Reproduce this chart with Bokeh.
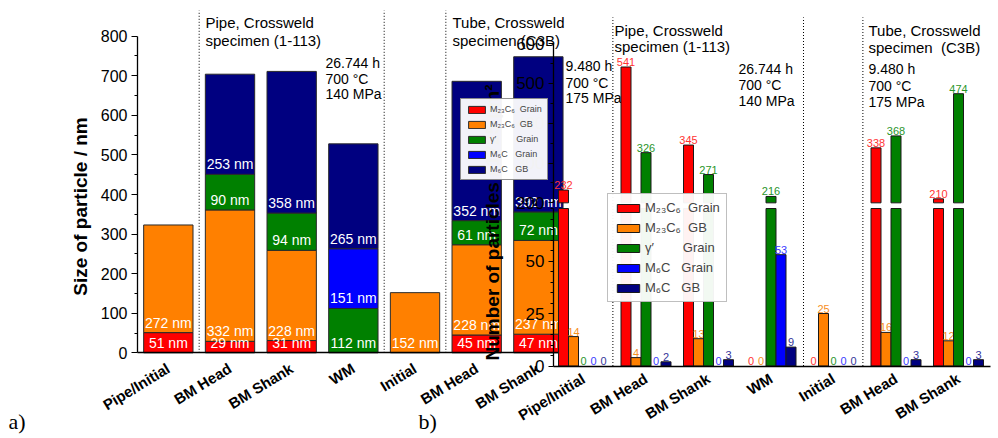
import numpy as np
from bokeh.plotting import figure
from bokeh.models import Range1d, LinearAxis, FixedTicker, Legend, LegendItem, Label
from bokeh.core.properties import value
from bokeh.embed import file_html
from bokeh.resources import INLINE

# ---------------- data ----------------
categories = ["Pipe/Initial", "BM Head", "BM Shank", "WM", "Initial", "BM Head", "BM Shank"]

# a) mean particle size of each phase (nm), stacked per specimen position
size_m23c6_grain = [51, 29, 31, 0, 0, 45, 47]
size_m23c6_gb = [272, 332, 228, 0, 152, 228, 237]
size_gamma_grain = [0, 90, 94, 112, 0, 61, 72]
size_m6c_grain = [0, 0, 0, 151, 0, 0, 0]
size_m6c_gb = [0, 253, 358, 265, 0, 352, 392]

# b) number of particles per 1725 µm²
count_m23c6_grain = [232, 541, 345, 0, 0, 338, 210]
count_m23c6_gb = [14, 4, 13, 0, 25, 16, 12]
count_gamma_grain = [0, 326, 271, 216, 0, 368, 474]
count_m6c_grain = [0, 0, 0, 53, 0, 0, 0]
count_m6c_gb = [0, 2, 3, 9, 0, 3, 3]

NB = "\u00a0"
phase_labels = [
    "M₂₃C₆" + NB * 2 + "Grain",
    "M₂₃C₆" + NB * 2 + "GB",
    "γ′" + NB * 8 + "Grain",
    "M₆C" + NB * 3 + "Grain",
    "M₆C" + NB * 3 + "GB",
]
fill_colors = ["#ff0000", "#ff8000", "#008000", "#0000ff", "#000080"]
text_colors = ["#ff3333", "#f7901e", "#2a952a", "#3a3aff", "#33339a"]

size_ticks = list(range(0, 801, 100))
size_minor = list(range(50, 800, 100))
count_ticks_low = [0, 25, 50]
count_minor_low = [5, 10, 15, 20, 30, 35, 40, 45, 55, 60, 65, 70, 75]
count_ticks_high = [200, 300, 400, 500, 600]
count_minor_high = [250, 350, 450, 550]
BREAK_LOW, BREAK_HIGH = 75, 200

# ---------------- layout ----------------
W, H = 998, 438
FONT = "Liberation Sans"


def span(p0, v0, p1, v1, a, b):
    """Linear pixel->value map, evaluated at pixels a and b."""
    k = (v1 - v0) / (p1 - p0)
    return v0 + (a - p0) * k, v0 + (b - p0) * k


p = figure(width=W, height=H,
           x_range=Range1d(*span(137, -0.5, 568.7, 6.5, 0, W)),
           y_range=Range1d(*span(352.3, 0, 35.7, 800, H, 0)),
           x_axis_type=None, y_axis_type=None,
           output_backend="svg", toolbar_location=None, min_border=0)
p.outline_line_color = None
p.background_fill_color = "white"
p.border_fill_color = "white"
p.extra_x_ranges = {"bx": Range1d(*span(583, 0, 958, 6, 0, W))}
p.extra_y_ranges = {
    "blo": Range1d(*span(365.5, 0, 260.5, 50, H, 0)),
    "bhi": Range1d(*span(162.5, 300, 43, 600, H, 0)),
}

idx = np.arange(len(categories), dtype=float)

# ---------------- panel a: stacked sizes ----------------
size_stack = [size_m23c6_grain, size_m23c6_gb, size_gamma_grain, size_m6c_grain, size_m6c_gb]
a_renderers = []
lab_x, lab_y, lab_t = [], [], []
base = np.zeros(len(categories))
for vals, col in zip(size_stack, fill_colors):
    v = np.array(vals, dtype=float)
    top = base + v
    m = v > 0
    r = p.vbar(x=idx[m], bottom=base[m], top=top[m], width=0.8,
               fill_color=col, line_color="#2a2a2a", line_width=1, level="image")
    a_renderers.append(r)
    lab_x += list(idx[m])
    lab_y += list(base[m])
    lab_t += [f"{int(x)} nm" for x in v[m]]
    base = top

p.text(x=lab_x, y=lab_y, text=lab_t, text_color="white", text_align="center",
       text_baseline="middle", y_offset=-10, text_font=value(FONT),
       text_font_size="14px", level="image")

# separators between specimens
p.segment(x0=[0.5, 3.5, 4.5], y0=[0, 0, 0], x1=[0.5, 3.5, 4.5], y1=[865, 865, 865],
          line_color="black", line_width=1, line_dash="1 2", level="image")

ya = LinearAxis(ticker=FixedTicker(ticks=size_ticks, minor_ticks=size_minor),
                fixed_location=-0.5, bounds=(0, 800), level="underlay")
xa = LinearAxis(ticker=FixedTicker(ticks=list(idx)),
                major_label_overrides={i: c for i, c in enumerate(categories)},
                fixed_location=0, bounds=(-0.5, 6.5), level="underlay")

# ---------------- panel b: particle counts with broken axis ----------------
count_stack = [count_m23c6_grain, count_m23c6_gb, count_gamma_grain, count_m6c_grain, count_m6c_gb]
offsets = [-0.32, -0.16, 0.0, 0.16, 0.32]
b_renderers = []
for vals, col, tcol, off in zip(count_stack, fill_colors, text_colors, offsets):
    v = np.array(vals, dtype=float)
    x = idx + off
    m = v > 0
    r = p.vbar(x=x[m], bottom=0, top=np.minimum(v, BREAK_LOW)[m], width=0.16,
               fill_color=col, line_color="#1a1a1a", line_width=1,
               x_range_name="bx", y_range_name="blo")
    b_renderers.append(r)
    hi = v > BREAK_HIGH
    p.vbar(x=x[hi], bottom=BREAK_HIGH, top=v[hi], width=0.16,
           fill_color=col, line_color="#1a1a1a", line_width=1,
           x_range_name="bx", y_range_name="bhi")
    lo = ~hi
    p.text(x=x[lo], y=v[lo], text=[str(int(t)) for t in v[lo]], text_color=tcol,
           text_align="center", text_baseline="bottom", y_offset=-1,
           text_font=value(FONT), text_font_size="11px",
           x_range_name="bx", y_range_name="blo")
    p.text(x=x[hi], y=v[hi], text=[str(int(t)) for t in v[hi]], text_color=tcol,
           text_align="center", text_baseline="bottom", y_offset=-1,
           text_font=value(FONT), text_font_size="11px",
           x_range_name="bx", y_range_name="bhi")

p.segment(x0=[0.47, 3.52, 4.47], y0=[0, 0, 0], x1=[0.47, 3.52, 4.47], y1=[166, 166, 166],
          line_color="black", line_width=1, line_dash="1 2",
          x_range_name="bx", y_range_name="blo")

yb_lo = LinearAxis(ticker=FixedTicker(ticks=count_ticks_low, minor_ticks=count_minor_low),
                   x_range_name="bx", y_range_name="blo", fixed_location=-0.48,
                   bounds=(0, BREAK_LOW))
yb_hi = LinearAxis(ticker=FixedTicker(ticks=count_ticks_high, minor_ticks=count_minor_high),
                   x_range_name="bx", y_range_name="bhi", fixed_location=-0.48,
                   bounds=(BREAK_HIGH, 600))
xb = LinearAxis(ticker=FixedTicker(ticks=list(idx)),
                major_label_overrides={i: c for i, c in enumerate(categories)},
                x_range_name="bx", y_range_name="blo", fixed_location=0,
                bounds=(-0.48, 6.51))


def style_y(ax, size, out):
    ax.axis_line_color = "black"
    ax.axis_line_width = 1.3
    ax.major_tick_in = 0
    ax.major_tick_out = out
    ax.minor_tick_in = 0
    ax.minor_tick_out = 3
    ax.major_tick_line_width = 1.2
    ax.major_label_text_font = FONT
    ax.major_label_text_font_size = size
    ax.major_label_text_color = "black"
    ax.major_label_standoff = 4


def style_x(ax, standoff):
    ax.axis_line_color = "black"
    ax.axis_line_width = 1.3
    ax.major_tick_line_color = None
    ax.minor_tick_line_color = None
    ax.major_label_text_font = FONT
    ax.major_label_text_font_style = "bold"
    ax.major_label_text_font_size = "15px"
    ax.major_label_text_color = "black"
    ax.major_label_orientation = 0.55
    ax.major_label_standoff = standoff


style_y(ya, "16px", 6)
style_y(yb_lo, "17px", 5)
style_y(yb_hi, "17px", 5)
style_x(xa, 8)
style_x(xb, 5)
for ax in (ya, yb_lo, yb_hi):
    p.add_layout(ax, "left")
for ax in (xa, xb):
    p.add_layout(ax, "below")

# ---------------- legends ----------------
leg_a = Legend(items=[LegendItem(label=l, renderers=[r]) for l, r in zip(phase_labels, a_renderers)],
               location=(460, H - 180), label_text_font=FONT, label_text_font_size="9px",
               glyph_width=21, glyph_height=9, label_height=9, spacing=5, padding=5,
               margin=0, label_standoff=3, border_line_color="#222222", border_line_width=1,
               level="underlay")
leg_b = Legend(items=[LegendItem(label=l, renderers=[r]) for l, r in zip(phase_labels, b_renderers)],
               location=(607, H - 302), label_text_font=FONT, label_text_font_size="13px",
               glyph_width=28, glyph_height=10, label_height=12, spacing=5, padding=6,
               margin=0, label_standoff=3, border_line_color="#7f7f7f", border_line_width=1.5)
p.add_layout(leg_a, "center")
p.add_layout(leg_b, "center")


# ---------------- texts ----------------
def note(txt, x, y, size="14px", level="annotation", **kw):
    opts = dict(text_font=FONT, text_font_size=size, text_baseline="middle", text_color="black")
    opts.update(kw)
    p.add_layout(Label(x=x, y=H - y, x_units="screen", y_units="screen", text=txt,
                       level=level, **opts))


note("Size of particle / nm", 80, 206, "19px", level="underlay", angle=np.pi / 2,
     text_align="center", text_font_style="bold")
note("Pipe, Crossweld", 205, 22, "15px", level="underlay")
note("specimen (1-113)", 205, 40, "15px", level="underlay")
note("26.744 h", 325, 62, level="underlay")
note("700 °C", 325, 78, level="underlay")
note("140 MPa", 325, 93, level="underlay")
note("Tube, Crossweld", 452, 22, "15px", level="underlay")
note("specimen (C3B)", 452, 40, "15px", level="underlay")
note("9.480 h", 565, 65, level="underlay")
note("700 °C", 565, 82, level="underlay")
note("175 MPa", 565, 97, level="underlay")

note("Number of particles / 1725 µm²", 492, 222, "19px", angle=np.pi / 2,
     text_align="center", text_font_style="bold")
note("Pipe, Crossweld", 614, 30, "15px")
note("specimen (1-113)", 614, 46, "15px")
note("26.744 h", 738, 68)
note("700 °C", 738, 84)
note("140 MPa", 738, 100)
note("Tube, Crossweld", 868, 30, "15px")
note("specimen" + NB * 2 + "(C3B)", 868, 47, "15px")
note("9.480 h", 868, 68)
note("700 °C", 868, 85)
note("175 MPa", 868, 101)

note("a)", 8, 421, "22px", text_font="Liberation Serif")
note("b)", 418, 421, "22px", text_font="Liberation Serif")

open("out.html", "w").write(file_html(p, INLINE))
